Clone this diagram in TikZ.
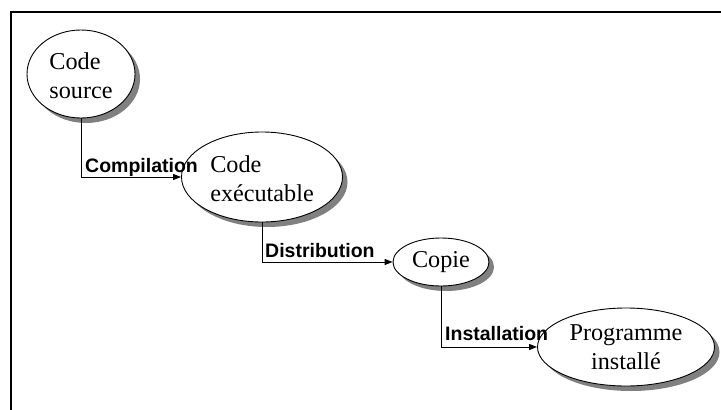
\documentclass[tikz,border=0pt]{standalone}
\usepackage{fontspec}
\setmainfont{Liberation Serif}
\newfontfamily\lblfont{Liberation Sans}
\usetikzlibrary{shapes.geometric,shadows,arrows.meta}
\begin{document}
\begin{tikzpicture}[x=1pt,y=-1pt,
  blob/.style={ellipse,draw=black,line width=0.9pt,fill=white,inner sep=0pt,
    font=\fontsize{24.2}{29}\selectfont,
    drop shadow={shadow xshift=5pt,shadow yshift=-5pt,fill=black!50,opacity=1}},
  flow/.style={draw=black,line width=0.9pt,-{Triangle[length=8pt,width=6pt]}},
  lbl/.style={anchor=base west,inner sep=0pt,font=\lblfont\bfseries\fontsize{19.5}{22}\selectfont}]
\useasboundingbox (0,0) rectangle (721,410);
\fill[white] (0,0) rectangle (721,410);
\draw[line width=2pt] (721,12) -- (11,12) -- (11,410);
\node[blob,minimum width=108pt,minimum height=88pt,align=left] (src) at (81,74) {\strut Code\\source};
\node[blob,minimum width=161pt,minimum height=90pt,align=left] (exe) at (262,177) {\strut Code\\exécutable};
\node[blob,minimum width=96pt,minimum height=48pt] (cop) at (441,262) {Copie};
\node[blob,minimum width=177pt,minimum height=78pt,align=center] (ins) at (626,347) {Programme\\installé};
\draw[flow] (src.south) |- (exe.west);
\draw[flow] (exe.south) |- (cop.west);
\draw[flow] (cop.south) |- (ins.west);
\node[lbl] (l1) at (85,172) {Compilation};
\node[lbl] (l2) at (265,257) {Distribution};
\node[lbl] (l3) at (445,340) {Installation};
\end{tikzpicture}
\end{document}
